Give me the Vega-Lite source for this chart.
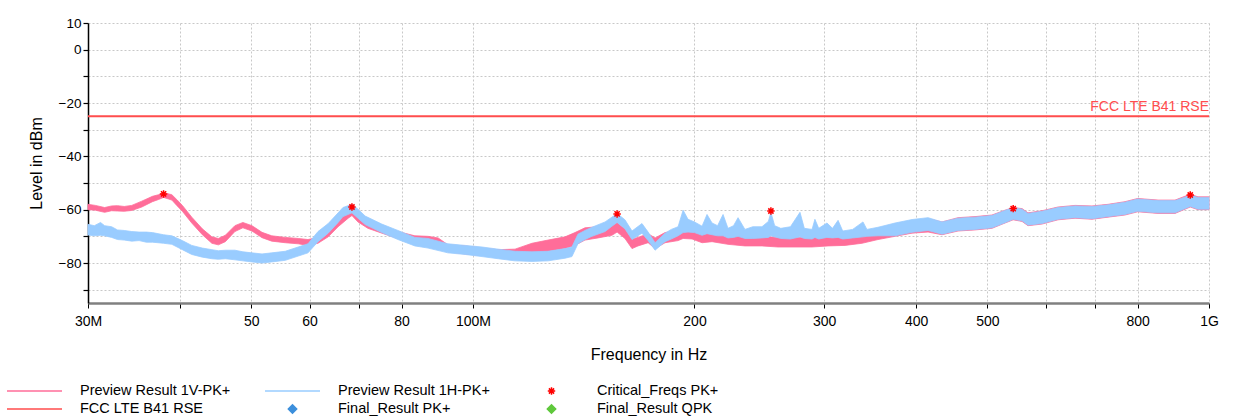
{
  "$schema": "https://vega.github.io/schema/vega-lite/v6.json",
  "width": 1121,
  "height": 280,
  "autosize": {"type": "none"},
  "padding": {"left": 88, "top": 23, "right": 24, "bottom": 113},
  "background": "white",
  "config": {
    "font": "Liberation Sans",
    "view": {"stroke": null},
    "legend": {
      "orient": "none", "legendX": -82, "legendY": 361,
      "direction": "horizontal", "columns": 3,
      "padding": 0, "columnPadding": 33, "rowPadding": 3,
      "clipHeight": 14,
      "symbolStrokeWidth": 1.5, "symbolOpacity": 1,
      "labelFontSize": 14.5, "labelColor": "black", "labelOffset": 17, "labelLimit": 0
    }
  },
  "datasets": {
    "v1": [
      {"f": 30, "level": -60, "level2": -58},
      {"f": 30.7, "level": -60.2, "level2": -58.4},
      {"f": 31.6, "level": -61, "level2": -59.2},
      {"f": 32.3, "level": -60.4, "level2": -58.6},
      {"f": 32.9, "level": -60.5, "level2": -58.5},
      {"f": 33.6, "level": -60.6, "level2": -58.8},
      {"f": 34.4, "level": -60.3, "level2": -58.4},
      {"f": 35.5, "level": -59, "level2": -56.8},
      {"f": 36.7, "level": -57, "level2": -55},
      {"f": 37.4, "level": -56.2, "level2": -54.4},
      {"f": 38.0, "level": -55.4, "level2": -53.6},
      {"f": 39.0, "level": -56.4, "level2": -54.4},
      {"f": 39.6, "level": -58.4, "level2": -56.2},
      {"f": 40.3, "level": -60.6, "level2": -58.4},
      {"f": 41.5, "level": -65, "level2": -62.8},
      {"f": 42.9, "level": -69.4, "level2": -67.2},
      {"f": 44.2, "level": -72.6, "level2": -70.2},
      {"f": 45.1, "level": -73.2, "level2": -70.8},
      {"f": 46.1, "level": -72, "level2": -69.6},
      {"f": 47.5, "level": -68.2, "level2": -66},
      {"f": 48.7, "level": -66.8, "level2": -64.8},
      {"f": 50.1, "level": -68, "level2": -66},
      {"f": 51.7, "level": -70.5, "level2": -68.5},
      {"f": 53.3, "level": -71.8, "level2": -69.8},
      {"f": 55.6, "level": -72.4, "level2": -70.4},
      {"f": 57.9, "level": -72.8, "level2": -70.8},
      {"f": 59.7, "level": -73.4, "level2": -71.2},
      {"f": 61.6, "level": -72.6, "level2": -70.4},
      {"f": 63.6, "level": -70.2, "level2": -67.6},
      {"f": 65.6, "level": -66.4, "level2": -63.8},
      {"f": 67.7, "level": -63.2, "level2": -60.8},
      {"f": 68.5, "level": -62.2, "level2": -59.8},
      {"f": 69.8, "level": -64.6, "level2": -62},
      {"f": 72.0, "level": -67, "level2": -64.6},
      {"f": 75.2, "level": -68.8, "level2": -66.4},
      {"f": 79.1, "level": -70.8, "level2": -68.2},
      {"f": 83.4, "level": -72.4, "level2": -69.8},
      {"f": 86.9, "level": -72.8, "level2": -70},
      {"f": 89.7, "level": -73.4, "level2": -70.6},
      {"f": 92.5, "level": -75.8, "level2": -73.2},
      {"f": 97.6, "level": -76.6, "level2": -73.6},
      {"f": 102.9, "level": -77.2, "level2": -74.4},
      {"f": 108.2, "level": -77.8, "level2": -75},
      {"f": 114.1, "level": -77.6, "level2": -74.8},
      {"f": 120.3, "level": -76.4, "level2": -72.6},
      {"f": 126.5, "level": -75.6, "level2": -71.4},
      {"f": 133.4, "level": -74.6, "level2": -70.2},
      {"f": 137.6, "level": -73.4, "level2": -68.6},
      {"f": 142, "level": -71.4, "level2": -66.8},
      {"f": 147.9, "level": -70.6, "level2": -66.4},
      {"f": 154.5, "level": -69.6, "level2": -65.6},
      {"f": 157, "level": -68.4, "level2": -64.8},
      {"f": 160.9, "level": -70.8, "level2": -67.2},
      {"f": 164.5, "level": -74.6, "level2": -71},
      {"f": 167.6, "level": -73.6, "level2": -70.4},
      {"f": 173, "level": -72.4, "level2": -69},
      {"f": 176.8, "level": -74.6, "level2": -70.6},
      {"f": 182.4, "level": -72.4, "level2": -68.6},
      {"f": 190, "level": -71.6, "level2": -67.8},
      {"f": 193, "level": -70.8, "level2": -65.8},
      {"f": 198.5, "level": -71, "level2": -66.4},
      {"f": 204.8, "level": -72.4, "level2": -68.8},
      {"f": 211.3, "level": -72, "level2": -68},
      {"f": 222.1, "level": -73, "level2": -69.2},
      {"f": 234.2, "level": -73.6, "level2": -70},
      {"f": 247, "level": -73.6, "level2": -70},
      {"f": 259.7, "level": -74, "level2": -70.4},
      {"f": 273.9, "level": -74, "level2": -70.4},
      {"f": 288.9, "level": -74, "level2": -70.4},
      {"f": 303.7, "level": -73.6, "level2": -70},
      {"f": 320.3, "level": -73.4, "level2": -69.6},
      {"f": 337.8, "level": -72.6, "level2": -68.6},
      {"f": 355.1, "level": -71.2, "level2": -67},
      {"f": 374.5, "level": -70, "level2": -65.4},
      {"f": 395, "level": -68.8, "level2": -64.2},
      {"f": 415.3, "level": -68.4, "level2": -63.4},
      {"f": 433.8, "level": -69.4, "level2": -64.6},
      {"f": 456.1, "level": -68, "level2": -63},
      {"f": 481, "level": -67.6, "level2": -62.6},
      {"f": 507.2, "level": -67, "level2": -62},
      {"f": 528.3, "level": -65, "level2": -60.2},
      {"f": 542, "level": -63.8, "level2": -59.2},
      {"f": 557.2, "level": -64.4, "level2": -59.6},
      {"f": 567.7, "level": -66, "level2": -61.2},
      {"f": 593.1, "level": -65.4, "level2": -60.4},
      {"f": 623.6, "level": -63.8, "level2": -59},
      {"f": 657.7, "level": -63.2, "level2": -58.4},
      {"f": 693.5, "level": -63.6, "level2": -58.6},
      {"f": 729.2, "level": -62.8, "level2": -58},
      {"f": 769, "level": -62, "level2": -57},
      {"f": 800, "level": -60.8, "level2": -55.8},
      {"f": 852.7, "level": -61.4, "level2": -56.4},
      {"f": 899.3, "level": -61.4, "level2": -56.4},
      {"f": 943, "level": -59, "level2": -54.2},
      {"f": 966.2, "level": -60, "level2": -55.2},
      {"f": 1000, "level": -60, "level2": -55.2}
    ],
    "h1": [
      {"f": 30, "level": -69.5, "level2": -65.5},
      {"f": 30.6, "level": -69.8, "level2": -66},
      {"f": 31.2, "level": -69.6, "level2": -64.8},
      {"f": 31.6, "level": -69.8, "level2": -66},
      {"f": 32.3, "level": -70.4, "level2": -66.4},
      {"f": 32.9, "level": -71.2, "level2": -67.6},
      {"f": 33.6, "level": -71.4, "level2": -67.8},
      {"f": 34.4, "level": -71.8, "level2": -68.2},
      {"f": 35.2, "level": -71.6, "level2": -68.4},
      {"f": 36, "level": -72.2, "level2": -68.4},
      {"f": 36.7, "level": -72.2, "level2": -68.6},
      {"f": 38.0, "level": -72.6, "level2": -69.4},
      {"f": 39.0, "level": -73, "level2": -69.8},
      {"f": 40.3, "level": -75, "level2": -71.6},
      {"f": 41.5, "level": -76.8, "level2": -73.4},
      {"f": 42.9, "level": -77.8, "level2": -74.4},
      {"f": 44.2, "level": -78.4, "level2": -75},
      {"f": 45.1, "level": -78.6, "level2": -75.4},
      {"f": 46.1, "level": -78.4, "level2": -75.2},
      {"f": 47.5, "level": -78.8, "level2": -75.2},
      {"f": 48.7, "level": -79.2, "level2": -75.8},
      {"f": 50.1, "level": -79.6, "level2": -76.2},
      {"f": 51.7, "level": -80, "level2": -76.6},
      {"f": 53.3, "level": -79.6, "level2": -76.2},
      {"f": 55.6, "level": -79, "level2": -75.6},
      {"f": 57.9, "level": -77.4, "level2": -74},
      {"f": 59.7, "level": -76.2, "level2": -72.8},
      {"f": 61.6, "level": -72, "level2": -68.2},
      {"f": 63.6, "level": -68.8, "level2": -65.2},
      {"f": 65.6, "level": -64.8, "level2": -61.2},
      {"f": 66.6, "level": -62.6, "level2": -59.2},
      {"f": 68.5, "level": -61.2, "level2": -58},
      {"f": 69.8, "level": -63.2, "level2": -59.8},
      {"f": 71.4, "level": -65.6, "level2": -62.4},
      {"f": 75.2, "level": -68.6, "level2": -65.4},
      {"f": 79.1, "level": -71.2, "level2": -67.8},
      {"f": 83.4, "level": -73.6, "level2": -70.4},
      {"f": 86.9, "level": -74.4, "level2": -70.8},
      {"f": 92.5, "level": -76.2, "level2": -72.8},
      {"f": 97.6, "level": -76.8, "level2": -73.4},
      {"f": 102.9, "level": -77.6, "level2": -74},
      {"f": 108.2, "level": -78.4, "level2": -74.8},
      {"f": 114.1, "level": -79.2, "level2": -75.6},
      {"f": 120.3, "level": -79.4, "level2": -75.8},
      {"f": 126.5, "level": -79.2, "level2": -75.6},
      {"f": 133.4, "level": -78.2, "level2": -74.6},
      {"f": 136.3, "level": -77.6, "level2": -74},
      {"f": 138.9, "level": -72.8, "level2": -69.2},
      {"f": 142, "level": -71.2, "level2": -67.8},
      {"f": 145.1, "level": -70, "level2": -66.6},
      {"f": 151.2, "level": -68.2, "level2": -64.6},
      {"f": 154.5, "level": -66.2, "level2": -62.8},
      {"f": 157, "level": -64.8, "level2": -61.4},
      {"f": 160.9, "level": -67.2, "level2": -63.8},
      {"f": 164.5, "level": -71.2, "level2": -68},
      {"f": 169.7, "level": -68.8, "level2": -65.2},
      {"f": 173, "level": -71.6, "level2": -68.4},
      {"f": 176.8, "level": -75.2, "level2": -72.4},
      {"f": 182.4, "level": -72, "level2": -68.8},
      {"f": 186, "level": -71, "level2": -67.4},
      {"f": 190, "level": -69.8, "level2": -66.4},
      {"f": 193, "level": -68.6, "level2": -60.2},
      {"f": 196, "level": -68.4, "level2": -63.6},
      {"f": 200, "level": -68.6, "level2": -64.6},
      {"f": 204.8, "level": -69.6, "level2": -66.2},
      {"f": 208, "level": -69, "level2": -61.8},
      {"f": 211.3, "level": -69.4, "level2": -65},
      {"f": 215, "level": -69.8, "level2": -66},
      {"f": 218.7, "level": -69.8, "level2": -61.8},
      {"f": 222.1, "level": -70.6, "level2": -67},
      {"f": 226, "level": -70.4, "level2": -66},
      {"f": 229.2, "level": -70, "level2": -63},
      {"f": 234.2, "level": -70.8, "level2": -67.4},
      {"f": 240, "level": -70.8, "level2": -66.4},
      {"f": 247, "level": -70.6, "level2": -66.4},
      {"f": 252, "level": -70.4, "level2": -64.4},
      {"f": 254, "level": -69.8, "level2": -61},
      {"f": 257, "level": -70.2, "level2": -66},
      {"f": 262, "level": -70.8, "level2": -67},
      {"f": 270, "level": -71, "level2": -66.4},
      {"f": 278.2, "level": -70.2, "level2": -61},
      {"f": 282, "level": -70.8, "level2": -67},
      {"f": 288.9, "level": -71, "level2": -67.4},
      {"f": 291.5, "level": -70.4, "level2": -63.6},
      {"f": 295, "level": -71, "level2": -67},
      {"f": 302.7, "level": -70.4, "level2": -65},
      {"f": 308, "level": -70.6, "level2": -67},
      {"f": 313.4, "level": -70.4, "level2": -64},
      {"f": 318, "level": -71, "level2": -68},
      {"f": 328, "level": -70.6, "level2": -67.4},
      {"f": 338.8, "level": -70.2, "level2": -64.6},
      {"f": 343, "level": -70, "level2": -67.4},
      {"f": 355.1, "level": -69.8, "level2": -66.6},
      {"f": 374.5, "level": -69.8, "level2": -65},
      {"f": 395, "level": -68.5, "level2": -63.7},
      {"f": 415.3, "level": -67.8, "level2": -63},
      {"f": 433.8, "level": -69.2, "level2": -64.6},
      {"f": 456.1, "level": -67.8, "level2": -63.2},
      {"f": 481, "level": -67.4, "level2": -62.8},
      {"f": 507.2, "level": -66.8, "level2": -62.2},
      {"f": 528.3, "level": -64.9, "level2": -60.3},
      {"f": 542, "level": -63.6, "level2": -59.2},
      {"f": 557.2, "level": -64.2, "level2": -59.8},
      {"f": 567.7, "level": -65.8, "level2": -61.4},
      {"f": 593.1, "level": -65.2, "level2": -60.6},
      {"f": 623.6, "level": -63.6, "level2": -59.2},
      {"f": 657.7, "level": -63, "level2": -58.6},
      {"f": 693.5, "level": -63.4, "level2": -58.8},
      {"f": 729.2, "level": -62.6, "level2": -58.2},
      {"f": 769, "level": -61.8, "level2": -57.2},
      {"f": 800, "level": -60.6, "level2": -56},
      {"f": 852.7, "level": -61.2, "level2": -56.6},
      {"f": 899.3, "level": -61.2, "level2": -56.6},
      {"f": 943, "level": -58.8, "level2": -54.6},
      {"f": 966.2, "level": -59.8, "level2": -55.4},
      {"f": 1000, "level": -59.8, "level2": -55.4}
    ],
    "crit": [
      {"f": 38.0, "level": -54.1},
      {"f": 68.5, "level": -59.0},
      {"f": 157, "level": -61.6},
      {"f": 254, "level": -60.5},
      {"f": 542, "level": -59.6},
      {"f": 943, "level": -54.5}
    ],
    "limit": [
      {"f": 30, "level": -25, "name": "FCC LTE B41 RSE"},
      {"f": 1000, "level": -25, "name": "FCC LTE B41 RSE"}
    ]
  },
  "encoding": {
    "x": {
      "field": "f", "type": "quantitative",
      "scale": {"type": "log", "domain": [30, 1000], "nice": false},
      "axis": {
        "values": [30, 40, 50, 60, 70, 80, 100, 200, 300, 400, 500, 600, 700, 800, 1000],
        "labelExpr": "datum.value == 30 ? '30M' : datum.value == 100 ? '100M' : datum.value == 1000 ? '1G' : (datum.value == 40 || datum.value == 70 || datum.value == 600 || datum.value == 700) ? '' : datum.label",
        "title": "Frequency in Hz",
        "titleFontSize": 16, "titleFontWeight": "normal", "titleColor": "black", "titlePadding": 18,
        "grid": true, "gridColor": "#c8c8c8", "gridDash": [2, 2], "gridWidth": 1,
        "domainColor": "#808080", "domainWidth": 2.5,
        "tickColor": "black", "tickSize": 5, "tickWidth": 1,
        "labelFontSize": 14, "labelColor": "black", "labelPadding": 6,
        "labelFlush": false, "labelOverlap": false
      }
    },
    "y": {
      "field": "level", "type": "quantitative",
      "scale": {"domain": [-95, 10], "nice": false, "zero": false},
      "axis": {
        "values": [-90, -80, -70, -60, -50, -40, -30, -20, -10, 0, 10],
        "labelExpr": "indexof([-90, -70, -50, -30, -10], datum.value) >= 0 ? '' : format(datum.value, 'd')",
        "labelOverlap": false,
        "labelFlush": false,
        "title": "Level in dBm",
        "titleFontSize": 16, "titleFontWeight": "normal", "titleColor": "black", "titlePadding": 14,
        "grid": true, "gridColor": "#c8c8c8", "gridDash": [2, 2], "gridWidth": 1,
        "domainColor": "black", "domainWidth": 1.5,
        "tickColor": "black", "tickSize": 5, "tickWidth": 1.2,
        "labelFontSize": 13.5, "labelColor": "black", "labelPadding": 2
      }
    }
  },
  "layer": [
    {
      "data": {"name": "v1"},
      "mark": {"type": "area", "strokeWidth": 0.8, "opacity": 1, "interpolate": "linear"},
      "encoding": {
        "y2": {"field": "level2"},
        "fill": {
          "datum": "Preview Result 1V-PK+",
          "scale": {
            "domain": ["Preview Result 1V-PK+", "Preview Result 1H-PK+", "Critical_Freqs PK+", "FCC LTE B41 RSE", "Final_Result PK+", "Final_Result QPK"],
            "range": ["#ff6d99", "#99ccff", "#ff0000", "#ff4d4d", "#3c8fdc", "#5fc83c"]
          },
          "legend": {"title": null}
        },
        "stroke": {
          "datum": "Preview Result 1V-PK+",
          "scale": {
            "domain": ["Preview Result 1V-PK+", "Preview Result 1H-PK+", "Critical_Freqs PK+", "FCC LTE B41 RSE", "Final_Result PK+", "Final_Result QPK"],
            "range": ["#ff6d99", "#99ccff", "#ff0000", "#ff4d4d", "#3c8fdc", "#5fc83c"]
          },
          "legend": {"title": null}
        }
      }
    },
    {
      "data": {"name": "h1"},
      "mark": {"type": "area", "strokeWidth": 0.8, "opacity": 1, "interpolate": "linear"},
      "encoding": {
        "y2": {"field": "level2"},
        "fill": {"datum": "Preview Result 1H-PK+"},
        "stroke": {"datum": "Preview Result 1H-PK+"}
      }
    },
    {
      "data": {"name": "limit"},
      "mark": {"type": "line", "strokeWidth": 2},
      "encoding": {
        "stroke": {"datum": "FCC LTE B41 RSE"}
      }
    },
    {
      "data": {"name": "limit"},
      "transform": [{"filter": "datum.f == 1000"}],
      "mark": {"type": "text", "align": "right", "baseline": "bottom", "dy": -2, "fontSize": 14, "color": "#ff4d4d"},
      "encoding": {
        "text": {"field": "name"}
      }
    },
    {
      "data": {"name": "crit"},
      "mark": {"type": "point", "filled": false, "strokeWidth": 1.5, "opacity": 1},
      "encoding": {
        "stroke": {"datum": "Critical_Freqs PK+"},
        "shape": {
          "datum": "Critical_Freqs PK+",
          "scale": {
            "domain": ["Preview Result 1V-PK+", "Preview Result 1H-PK+", "Critical_Freqs PK+", "FCC LTE B41 RSE", "Final_Result PK+", "Final_Result QPK"],
            "range": ["stroke", "stroke", "M-1,0L1,0M0,-1L0,1M-0.7,-0.7L0.7,0.7M-0.7,0.7L0.7,-0.7", "stroke", "diamond", "diamond"]
          },
          "legend": {"title": null}
        },
        "size": {
          "datum": "Critical_Freqs PK+",
          "scale": {
            "type": "ordinal",
            "domain": ["Preview Result 1V-PK+", "Preview Result 1H-PK+", "Critical_Freqs PK+", "FCC LTE B41 RSE", "Final_Result PK+", "Final_Result QPK"],
            "range": [3025, 3025, 55, 3025, 70, 70]
          },
          "legend": {"title": null}
        }
      }
    }
  ]
}
